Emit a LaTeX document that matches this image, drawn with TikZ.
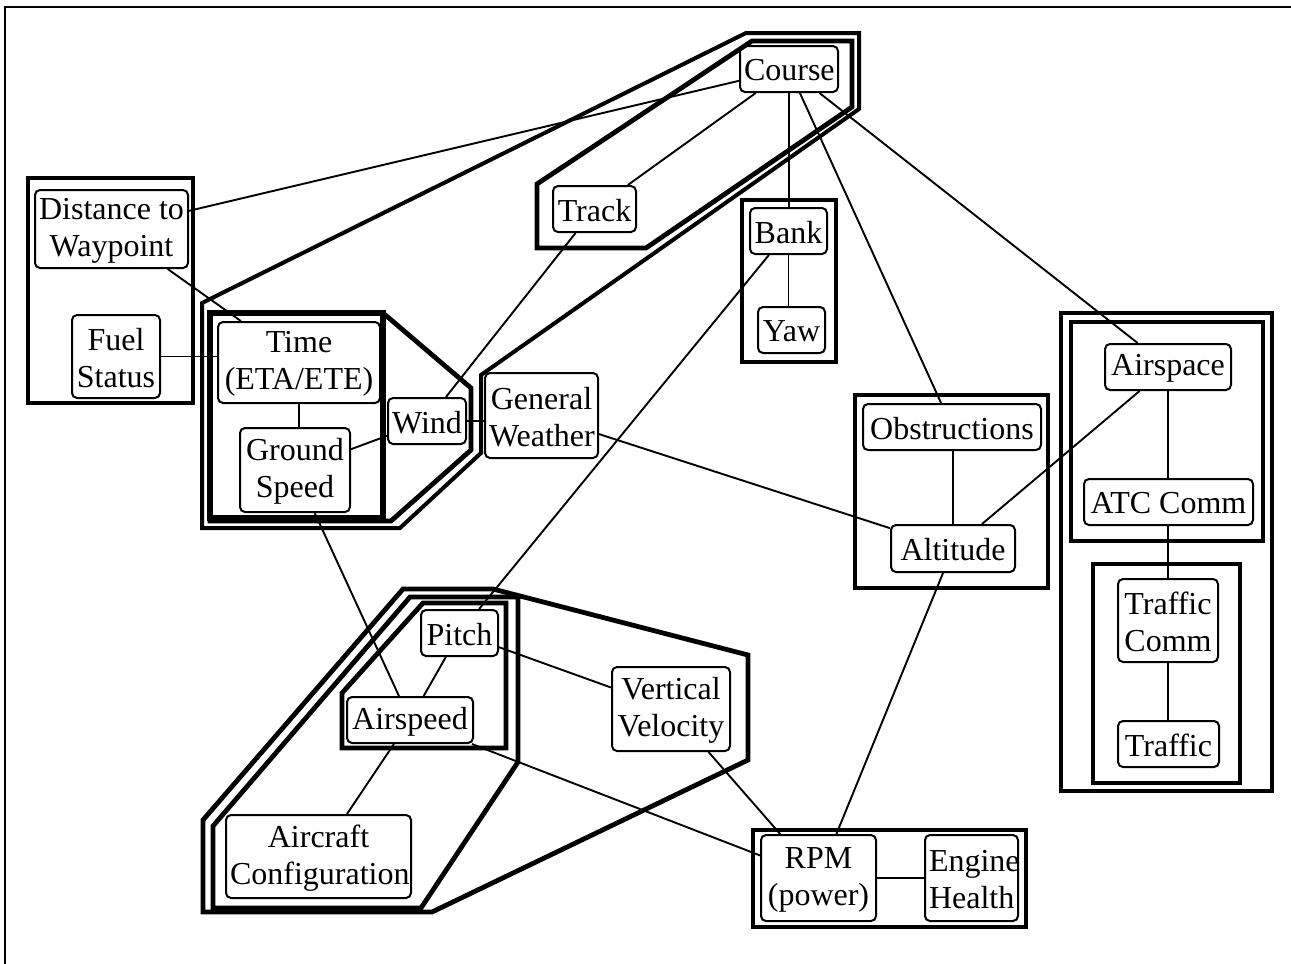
\documentclass[tikz,border=0pt]{standalone}
\usepackage{fontspec}
\setmainfont{Liberation Serif}
\tikzset{
  every node/.style={font=\fontsize{32}{37}\selectfont},
  box/.style={draw, line width=2pt, rounded corners=5pt, inner sep=0pt},
  grp/.style={line width=4.8pt},
  link/.style={line width=1.9pt},
}
\newcommand\bx[6]{\node[box, minimum width=#4pt, minimum height=#5pt] (#1) at (#2,#3) {\parbox{\dimexpr#4pt-8pt\relax}{\centering\vspace*{3pt}#6}};}
\begin{document}
\begin{tikzpicture}[x=1pt,y=-1pt]
\useasboundingbox (0,0) rectangle (1291,964);
% frame
\draw[line width=1.5pt] (5,964) -- (5,7) -- (1291,7);
% groups
\draw[grp] (28,178) rectangle (193,403);
\draw[line width=6.5pt] (210,313) rectangle (383,518);
\draw[grp] (210,313) -- (383,313) -- (471,388) -- (471,450) -- (391,521) -- (210,521) -- cycle;
\draw[line width=4pt] (202,303) -- (746,33) -- (859,33) -- (859,109) -- (481,375) -- (481,453) -- (400,528) -- (202,528) -- cycle;
\draw[grp] (537,184) -- (752,41) -- (852,41) -- (852,107) -- (646,248) -- (537,248) -- cycle;
\draw[grp] (742,200) rectangle (836,362);
\draw[grp] (855,395) rectangle (1048,588);
\draw[grp] (1061,313) rectangle (1272,791);
\draw[grp] (1071,322) rectangle (1263,541);
\draw[grp] (1093,564) rectangle (1240,783);
\draw[grp] (753,830) rectangle (1026,927);
\draw[grp] (203,912) -- (203,820) -- (403,589) -- (493,589) -- (748,655) -- (748,760) -- (432,912) -- cycle;
\draw[grp] (213,908) -- (213,826) -- (410,597) -- (518,597) -- (518,762) -- (421,908) -- cycle;
\draw[grp] (342,748) -- (342,693) -- (423,603) -- (506,603) -- (506,748) -- cycle;
% nodes
\bx{dist}{111.5}{229}{153}{78}{Distance to\\Waypoint}
\bx{fuel}{116}{356.5}{88}{83}{Fuel\\Status}
\bx{time}{299}{362.5}{162}{81}{Time\\(ETA/ETE)}
\bx{gs}{295}{470}{110}{84}{Ground\\Speed}
\bx{wind}{427}{421}{78}{46}{Wind}
\bx{gw}{541.5}{415.5}{113}{85}{General\\Weather}
\bx{course}{789}{69}{98}{46}{Course}
\bx{track}{594.5}{209}{83}{46}{Track}
\bx{bank}{788.5}{231}{77}{46}{Bank}
\bx{yaw}{791.5}{330}{67}{46}{Yaw}
\bx{obst}{952}{427}{178}{46}{Obstructions}
\bx{alt}{953}{548.5}{124}{47}{Altitude}
\bx{airsp}{1168}{367}{126}{46}{Airspace}
\bx{atc}{1168.5}{502}{169}{46}{ATC Comm}
\bx{tcomm}{1168}{620.5}{100}{83}{Traffic\\Comm}
\bx{traffic}{1168.5}{744}{101}{46}{Traffic}
\bx{pitch}{459.5}{633}{77}{46}{Pitch}
\bx{airspd}{410}{720}{126}{46}{Airspeed}
\bx{vv}{671}{709}{118}{84}{Vertical\\Velocity}
\bx{acfg}{318.5}{856.5}{185}{83}{Aircraft\\Configuration}
\bx{rpm}{818.5}{878}{115}{86}{RPM\\(power)}
\bx{eng}{971.5}{878}{93}{86}{Engine\\Health}
% links
\draw[link] (course) -- (dist);
\draw[link] (course) -- (track);
\draw[link] (course.south) -- (course.south |- bank.north);
\draw[link] (course) -- (obst);
\draw[link] (course) -- (airsp);
\draw[link] (bank.south) -- (bank.south |- yaw.north);
\draw[link] (bank) -- (pitch);
\draw[link] (track) -- (wind);
\draw[link] (dist) -- (time);
\draw[link] (fuel.east) -- (fuel.east -| time.west);
\draw[link] (time.south) -- (time.south |- gs.north);
\draw[link] (gs) -- (wind);
\draw[link] (wind.east) -- (wind.east -| gw.west);
\draw[link] (gw) -- (alt);
\draw[link] (alt.north |- obst.south) -- (alt.north);
\draw[link] (alt) -- (airsp);
\draw[link] (airsp.south) -- (airsp.south |- atc.north);
\draw[link] (airsp.south |- atc.south) -- (airsp.south |- tcomm.north);
\draw[link] (tcomm.south) -- (tcomm.south |- traffic.north);
\draw[link] (alt) -- (rpm);
\draw[link] (gs) -- (airspd);
\draw[link] (pitch) -- (airspd);
\draw[link] (pitch) -- (vv);
\draw[link] (airspd) -- (acfg);
\draw[link] (airspd) -- (rpm);
\draw[link] (vv) -- (rpm);
\draw[link] (rpm) -- (eng);
\end{tikzpicture}
\end{document}
